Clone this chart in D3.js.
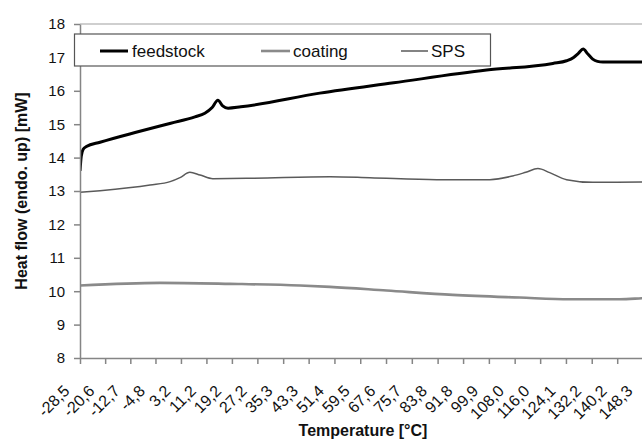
<!DOCTYPE html>
<html>
<head>
<meta charset="utf-8">
<script src="https://cdn.jsdelivr.net/npm/d3@7/dist/d3.min.js"></script>
<style>
  html, body { margin: 0; padding: 0; background: #fff; }
  svg { display: block; }
  text { font-family: "Liberation Sans", Arial, sans-serif; }
</style>
</head>
<body>
<svg id="chart" width="642" height="439"></svg>
<script>
// ---------- data ----------
const xTickLabels = ["-28,5","-20,6","-12,7","-4,8","3,2","11,2","19,2","27,2","35,3","43,3","51,4","59,5","67,6","75,7","83,8","91,8","99,9","108,0","116,0","124,1","132,2","140,2","148,3"];
const yTicks = [8, 9, 10, 11, 12, 13, 14, 15, 16, 17, 18];

const feedstockT = [-28.5, -28.1, -27.5, -26.5, -22.2, -10, 0, 7.6, 10.7, 13.0, 14.8, 16.3, 18.0, 22, 46.8, 70, 99.2, 120, 124.3, 126.5, 128, 129.5, 131, 132.5, 134, 135.7, 150];
const feedstockV = [13.6, 14.05, 14.25, 14.33, 14.46, 14.78, 15.03, 15.22, 15.33, 15.5, 15.72, 15.55, 15.48, 15.52, 15.93, 16.24, 16.62, 16.82, 16.9, 17.0, 17.12, 17.25, 17.1, 16.95, 16.88, 16.86, 16.86];

const coatingT = [-28.5, -3.4, 18.6, 40.6, 50.0, 67.8, 88.6, 109.6, 125.3, 141.0, 147.9, 150];
const coatingV = [10.17, 10.25, 10.22, 10.17, 10.13, 10.02, 9.89, 9.81, 9.76, 9.76, 9.79, 9.8];

const spsT = [-28.5, -22.2, -6.5, -0.2, 2.9, 6.0, 9.2, 13.2, 24.9, 50, 62.5, 83.5, 100.2, 107.4, 111.5, 115.3, 119, 124.3, 132.5, 147.9, 150];
const spsV = [12.96, 13.01, 13.18, 13.28, 13.4, 13.56, 13.48, 13.37, 13.38, 13.43, 13.4, 13.34, 13.34, 13.45, 13.56, 13.67, 13.55, 13.34, 13.26, 13.27, 13.27];

const seriesNames = ["feedstock", "coating", "SPS"];

// ---------- layout ----------
const svg = d3.select("#chart");
const mLeft = 80, mRight = 642, mTop = 24, mBottom = 358;

const xTickVals = xTickLabels.map(s => +s.replace(",", "."));
const x = d3.scaleLinear().domain([-28.5, 148.3]).range([80, 643]);
const y = d3.scaleLinear().domain([8, 18]).range([mBottom, mTop]);

const axisColor = "#858585";

// top gridline (18)
svg.append("line")
  .attr("x1", mLeft).attr("x2", mRight)
  .attr("y1", y(18)).attr("y2", y(18))
  .attr("stroke", "#a0a0a0").attr("stroke-width", 1.2);

// clip
svg.append("clipPath").attr("id", "plotclip")
  .append("rect").attr("x", mLeft).attr("y", mTop - 10).attr("width", mRight - mLeft).attr("height", mBottom - mTop + 10);

// series
const styles = {
  feedstock: { color: "#000", width: 3 },
  coating: { color: "#8a8a8a", width: 2.6 },
  SPS: { color: "#5a5a5a", width: 1.5 }
};
const dataSets = {
  feedstock: feedstockT.map((t, i) => [t, feedstockV[i]]),
  coating: coatingT.map((t, i) => [t, coatingV[i]]),
  SPS: spsT.map((t, i) => [t, spsV[i]])
};
const line = d3.line().x(d => x(d[0])).y(d => y(d[1])).curve(d3.curveMonotoneX);
const g = svg.append("g").attr("clip-path", "url(#plotclip)");
["coating", "SPS", "feedstock"].forEach(name => {
  g.append("path")
    .datum(dataSets[name])
    .attr("d", line)
    .attr("fill", "none")
    .attr("stroke", styles[name].color)
    .attr("stroke-width", styles[name].width)
    .attr("stroke-linejoin", "round");
});

// y axis
const yAxis = svg.append("g")
  .attr("transform", `translate(${mLeft},0)`)
  .call(d3.axisLeft(y).tickValues(yTicks).tickSize(6).tickPadding(9).tickSizeOuter(0));
yAxis.select(".domain").attr("stroke", axisColor).attr("stroke-width", 1.5);
yAxis.selectAll(".tick line").attr("stroke", axisColor).attr("stroke-width", 1.5);
yAxis.selectAll(".tick text").attr("font-size", 15).attr("fill", "#111")
  .attr("font-family", "Liberation Sans, Arial, sans-serif");

// x axis
const xAxis = svg.append("g")
  .attr("transform", `translate(0,${mBottom})`)
  .call(d3.axisBottom(x).tickValues(xTickVals).tickFormat((d, i) => xTickLabels[i]).tickSize(6).tickSizeOuter(0));
xAxis.select(".domain").attr("stroke", axisColor).attr("stroke-width", 1.5);
xAxis.selectAll(".tick line").attr("stroke", axisColor).attr("stroke-width", 1.5);
xAxis.selectAll(".tick text")
  .attr("font-size", 16).attr("fill", "#111")
  .attr("font-family", "Liberation Sans, Arial, sans-serif")
  .attr("text-anchor", "end")
  .attr("dy", null)
  .attr("y", null)
  .attr("transform", "translate(-10,34) rotate(-45)");

// axis titles
svg.append("text")
  .attr("x", 363).attr("y", 436)
  .attr("text-anchor", "middle")
  .attr("font-size", 16).attr("font-weight", "bold").attr("fill", "#111")
  .text("Temperature [°C]");
svg.append("text")
  .attr("transform", "translate(27,191) rotate(-90)")
  .attr("text-anchor", "middle")
  .attr("font-size", 16).attr("font-weight", "bold").attr("fill", "#111")
  .text("Heat flow (endo. up) [mW]");

// legend
const leg = svg.append("g");
leg.append("rect")
  .attr("x", 74.5).attr("y", 34).attr("width", 416).attr("height", 32)
  .attr("fill", "#fff").attr("stroke", "#555").attr("stroke-width", 1.2);
const legItems = [
  { name: "feedstock", x1: 100, x2: 128, tx: 132 },
  { name: "coating", x1: 261, x2: 290, tx: 293 },
  { name: "SPS", x1: 401, x2: 428, tx: 431 }
];
legItems.forEach(it => {
  leg.append("line")
    .attr("x1", it.x1).attr("x2", it.x2).attr("y1", 51).attr("y2", 51)
    .attr("stroke", styles[it.name].color).attr("stroke-width", styles[it.name].width);
  leg.append("text")
    .attr("x", it.tx).attr("y", 57)
    .attr("font-size", 17).attr("fill", "#111")
    .text(it.name);
});
</script>
</body>
</html>
